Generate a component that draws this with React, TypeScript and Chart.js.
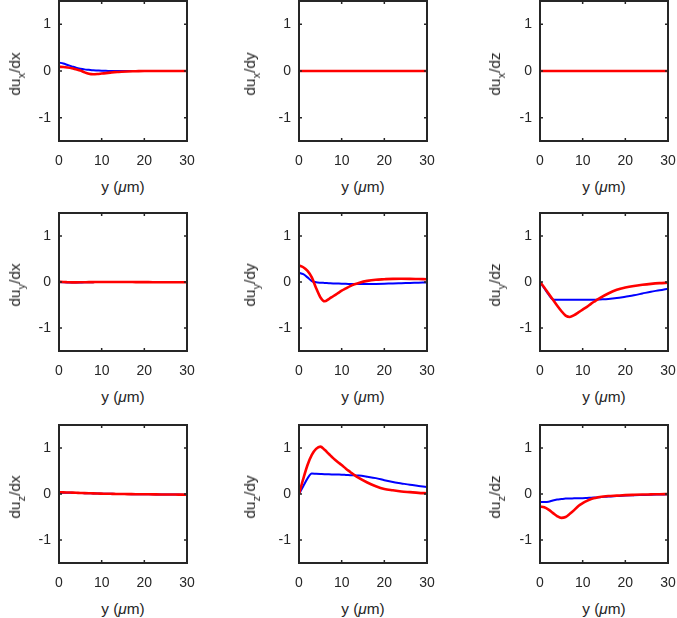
import React, { useEffect, useRef } from "react";
import { Chart, registerables } from "chart.js";

Chart.register(...registerables);

// ---------- data ----------
const X_UM = [0, 1, 2, 3, 4, 5, 6, 7, 8, 9, 10, 11, 12, 13, 14, 16, 18, 20, 22, 24, 26, 28, 30];

const Y_TICKS = [-1, 0, 1];
const X_TICKS = [0, 10, 20, 30];

// row 1: du_x
const UX_DX_BLUE = [0.18, 0.16, 0.13, 0.1, 0.07, 0.05, 0.035, 0.025, 0.015, 0.01, 0.005, 0.003, 0.002, 0, 0, 0, 0, 0, 0, 0, 0, 0, 0];
const UX_DX_RED = [0.09, 0.085, 0.075, 0.06, 0.035, 0.01, -0.03, -0.06, -0.07, -0.065, -0.055, -0.045, -0.035, -0.025, -0.02, -0.01, -0.005, 0, 0, 0, 0, 0, 0];
const UX_DY_BLUE = [0, 0, 0, 0, 0, 0, 0, 0, 0, 0, 0, 0, 0, 0, 0, 0, 0, 0, 0, 0, 0, 0, 0];
const UX_DY_RED = [0, 0, 0, 0, 0, 0, 0, 0, 0, 0, 0, 0, 0, 0, 0, 0, 0, 0, 0, 0, 0, 0, 0];
const UX_DZ_BLUE = [0, 0, 0, 0, 0, 0, 0, 0, 0, 0, 0, 0, 0, 0, 0, 0, 0, 0, 0, 0, 0, 0, 0];
const UX_DZ_RED = [0, 0, 0, 0, 0, 0, 0, 0, 0, 0, 0, 0, 0, 0, 0, 0, 0, 0, 0, 0, 0, 0, 0];

// row 2: du_y
const UY_DX_BLUE = [0, -0.005, -0.01, -0.012, -0.012, -0.01, -0.008, -0.005, -0.003, 0, 0, 0, 0, 0, 0, 0, 0, 0, 0, 0, 0, 0, 0];
const UY_DX_RED = [0.003, 0, -0.004, -0.008, -0.008, -0.007, -0.005, -0.003, -0.002, 0, 0, 0, 0, 0, 0, 0, -0.002, -0.003, -0.004, -0.005, -0.005, -0.006, -0.006];
const UY_DY_BLUE = [0.2, 0.17, 0.1, 0.02, -0.005, -0.015, -0.02, -0.025, -0.03, -0.033, -0.036, -0.04, -0.042, -0.045, -0.045, -0.045, -0.042, -0.037, -0.03, -0.025, -0.02, -0.015, -0.01];
const UY_DY_RED = [0.36, 0.32, 0.24, 0.1, -0.13, -0.33, -0.42, -0.37, -0.31, -0.25, -0.19, -0.14, -0.09, -0.05, -0.02, 0.025, 0.05, 0.06, 0.068, 0.07, 0.068, 0.064, 0.06];
const UY_DZ_BLUE = [0, -0.136, -0.27, -0.38, -0.385, -0.385, -0.385, -0.385, -0.385, -0.385, -0.385, -0.385, -0.385, -0.385, -0.38, -0.37, -0.35, -0.32, -0.29, -0.25, -0.21, -0.18, -0.145];
const UY_DZ_RED = [0, -0.12, -0.25, -0.38, -0.51, -0.63, -0.73, -0.76, -0.72, -0.66, -0.6, -0.54, -0.47, -0.41, -0.35, -0.25, -0.17, -0.12, -0.085, -0.06, -0.04, -0.025, -0.015];

// row 3: du_z
const UZ_DX_BLUE = [0.025, 0.027, 0.027, 0.025, 0.022, 0.02, 0.018, 0.015, 0.012, 0.01, 0.008, 0.006, 0.004, 0.002, 0, -0.002, -0.004, -0.006, -0.008, -0.01, -0.011, -0.013, -0.015];
const UZ_DX_RED = [0.035, 0.035, 0.033, 0.03, 0.027, 0.022, 0.02, 0.017, 0.013, 0.01, 0.008, 0.006, 0.004, 0.002, 0, -0.002, -0.004, -0.006, -0.008, -0.01, -0.011, -0.013, -0.015];
const UZ_DY_BLUE = [0, 0.17, 0.34, 0.445, 0.44, 0.435, 0.43, 0.428, 0.425, 0.422, 0.42, 0.415, 0.41, 0.405, 0.4, 0.375, 0.345, 0.3, 0.26, 0.23, 0.2, 0.175, 0.15];
const UZ_DY_RED = [0, 0.33, 0.63, 0.85, 0.98, 1.03, 0.96, 0.87, 0.78, 0.7, 0.63, 0.55, 0.48, 0.41, 0.35, 0.25, 0.17, 0.11, 0.08, 0.055, 0.04, 0.025, 0.015];
const UZ_DZ_BLUE = [-0.17, -0.175, -0.17, -0.14, -0.12, -0.11, -0.1, -0.098, -0.095, -0.093, -0.09, -0.085, -0.08, -0.075, -0.07, -0.055, -0.045, -0.035, -0.028, -0.022, -0.016, -0.012, -0.008];
const UZ_DZ_RED = [-0.27, -0.29, -0.34, -0.41, -0.48, -0.52, -0.5, -0.43, -0.35, -0.26, -0.2, -0.15, -0.11, -0.085, -0.065, -0.045, -0.035, -0.025, -0.018, -0.012, -0.008, -0.004, -0.002];

const COMPONENTS = ["x", "y", "z"];
const DERIVS = ["dx", "dy", "dz"];
const BLUE_SERIES = [
  [UX_DX_BLUE, UX_DY_BLUE, UX_DZ_BLUE],
  [UY_DX_BLUE, UY_DY_BLUE, UY_DZ_BLUE],
  [UZ_DX_BLUE, UZ_DY_BLUE, UZ_DZ_BLUE],
];
const RED_SERIES = [
  [UX_DX_RED, UX_DY_RED, UX_DZ_RED],
  [UY_DX_RED, UY_DY_RED, UY_DZ_RED],
  [UZ_DX_RED, UZ_DY_RED, UZ_DZ_RED],
];

// ---------- layout ----------
const COL_LEFT = [59, 299, 540];
const COL_W = 128;
const ROW_TOP = [1, 213, 425];
const ROW_H = [140, 138, 138];
const YLABEL_BASE_OFF = [39, 44, 40];
const AXIS_W = 45;
const PAD_T = 4;
const PAD_R = 8;
const AXIS_H = 30;

const FONT = '"Liberation Sans", Arial, Helvetica, sans-serif';
const INK = "#262626";

const boxPlugin = {
  id: "matlabBox",
  afterDatasetsDraw(chart: any) {
    const { ctx, chartArea: a, scales } = chart;
    ctx.save();
    ctx.strokeStyle = INK;
    ctx.lineWidth = 1.5;
    const tl = 3;
    ctx.beginPath();
    X_TICKS.forEach((v) => {
      const px = scales.x.getPixelForValue(v);
      ctx.moveTo(px, a.bottom);
      ctx.lineTo(px, a.bottom - tl);
      ctx.moveTo(px, a.top);
      ctx.lineTo(px, a.top + tl);
    });
    Y_TICKS.forEach((v) => {
      const py = scales.y.getPixelForValue(v);
      ctx.moveTo(a.left, py);
      ctx.lineTo(a.left + tl, py);
      ctx.moveTo(a.right, py);
      ctx.lineTo(a.right - tl, py);
    });
    ctx.stroke();
    ctx.lineWidth = 2;
    ctx.strokeRect(a.left, a.top, a.right - a.left, a.bottom - a.top);
    ctx.restore();
  },
};

function zeroPad(s: any) {
  s.paddingLeft = 0;
  s.paddingRight = 0;
  s.paddingTop = 0;
  s.paddingBottom = 0;
}

function Panel({ r, c }: { r: number; c: number }) {
  const ref = useRef<HTMLCanvasElement | null>(null);
  const w = COL_W + AXIS_W + PAD_R;
  const h = ROW_H[r] + PAD_T + AXIS_H;
  useEffect(() => {
    const blue = BLUE_SERIES[r][c];
    const red = RED_SERIES[r][c];
    const chart = new Chart(ref.current as HTMLCanvasElement, {
      type: "line",
      data: {
        datasets: [
          {
            label: "red",
            data: X_UM.map((x, i) => ({ x, y: red[i] })),
            borderColor: "#ff0000",
            borderWidth: 2.6,
            pointRadius: 0,
            cubicInterpolationMode: "monotone",
            order: 0,
          },
          {
            label: "blue",
            data: X_UM.map((x, i) => ({ x, y: blue[i] })),
            borderColor: "#0000ff",
            borderWidth: 2,
            pointRadius: 0,
            cubicInterpolationMode: "monotone",
            order: 1,
          },
        ],
      },
      options: {
        animation: false,
        responsive: false,
        events: [],
        layout: { padding: { left: 0, top: PAD_T, right: PAD_R, bottom: 0 }, autoPadding: false },
        plugins: { legend: { display: false }, tooltip: { enabled: false } },
        scales: {
          x: {
            type: "linear",
            min: 0,
            max: 30,
            afterBuildTicks: (s: any) => {
              s.ticks = X_TICKS.map((v) => ({ value: v }));
            },
            afterFit: (s: any) => {
              s.height = AXIS_H;
              zeroPad(s);
            },
            grid: { display: false, drawTicks: false },
            border: { display: false },
            ticks: {
              padding: 12,
              maxRotation: 0,
              color: INK,
              font: { family: FONT, size: 14 },
              callback: (v: any) => String(v),
            },
          },
          y: {
            type: "linear",
            min: -1.5,
            max: 1.5,
            afterBuildTicks: (s: any) => {
              s.ticks = Y_TICKS.map((v) => ({ value: v }));
            },
            afterFit: (s: any) => {
              s.width = AXIS_W;
              zeroPad(s);
            },
            grid: { display: false, drawTicks: false },
            border: { display: false },
            ticks: {
              padding: 8,
              color: INK,
              font: { family: FONT, size: 14 },
              callback: (v: any) => String(v),
            },
          },
        },
      },
      plugins: [boxPlugin],
    } as any);
    return () => chart.destroy();
  }, [r, c]);
  return (
    <canvas
      ref={ref}
      width={w}
      height={h}
      style={{ position: "absolute", left: COL_LEFT[c] - AXIS_W, top: ROW_TOP[r] - PAD_T, width: w, height: h }}
    />
  );
}

function YLabel({ r, c }: { r: number; c: number }) {
  const cx = COL_LEFT[c] - YLABEL_BASE_OFF[c] - 5.3;
  const cy = ROW_TOP[r] + ROW_H[r] / 2 + 3;
  return (
    <div
      style={{
        position: "absolute",
        left: cx,
        top: cy,
        transform: "translate(-50%, -50%) rotate(-90deg)",
        fontFamily: FONT,
        fontSize: "15.4px",
        lineHeight: "18px",
        color: INK,
        whiteSpace: "nowrap",
      }}
    >
      du
      <span style={{ fontSize: "11px", verticalAlign: "-5px", lineHeight: 0 }}>{COMPONENTS[r]}</span>/
      {DERIVS[c]}
    </div>
  );
}

function XLabel({ r, c }: { r: number; c: number }) {
  const cx = COL_LEFT[c] + COL_W / 2;
  const top = ROW_TOP[r] + ROW_H[r] + 36.7;
  return (
    <div
      style={{
        position: "absolute",
        left: cx,
        top,
        transform: "translateX(-50%)",
        fontFamily: FONT,
        fontSize: "15.4px",
        lineHeight: "18px",
        color: INK,
        whiteSpace: "nowrap",
      }}
    >
      y (<span style={{ fontStyle: "italic" }}>μ</span>m)
    </div>
  );
}

export default function App() {
  const cells: Array<[number, number]> = [];
  for (let r = 0; r < 3; r++) for (let c = 0; c < 3; c++) cells.push([r, c]);
  return (
    <div
      style={{
        position: "fixed",
        left: 0,
        top: 0,
        width: 677,
        height: 618,
        overflow: "hidden",
        background: "#ffffff",
      }}
    >
      {cells.map(([r, c]) => (
        <React.Fragment key={`${r}-${c}`}>
          <Panel r={r} c={c} />
          <YLabel r={r} c={c} />
          <XLabel r={r} c={c} />
        </React.Fragment>
      ))}
    </div>
  );
}
